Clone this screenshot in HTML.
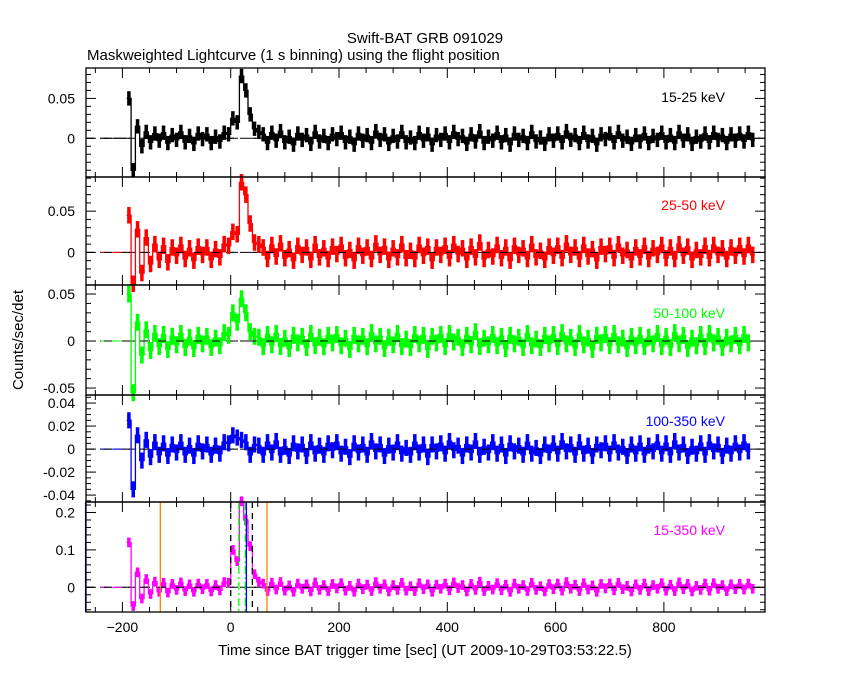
<!DOCTYPE html>
<html><head><meta charset="utf-8">
<style>
html,body{margin:0;padding:0;background:#fff;}
svg text{font-family:"Liberation Sans",sans-serif;}
</style></head>
<body>
<svg id="chart" width="850" height="680" viewBox="0 0 850 680" xmlns="http://www.w3.org/2000/svg">
<rect width="850" height="680" fill="#fff"/>
<text x="425" y="43" font-size="15" text-anchor="middle">Swift-BAT GRB 091029</text>
<text x="87" y="60" font-size="15">Maskweighted Lightcurve (1 s binning) using the flight position</text>
<text x="425" y="655" font-size="15" text-anchor="middle">Time since BAT trigger time [sec] (UT 2009-10-29T03:53:22.5)</text>
<text x="0" y="0" font-size="15" text-anchor="middle" transform="translate(23,340) rotate(-90)">Counts/sec/det</text>
<g id="plots"></g>
</svg>
<script>
// time grid: bins start at T0 with STEP seconds
const T0 = -192, STEP = 8;
const xTicks = [-200, 0, 200, 400, 600, 800];
// values in milli-counts/sec/det
const band1 = [50,-40,15,-10,8,-5,6,-3,7,-6,4,-2,8,-5,3,-7,6,-1,5,-6,2,-4,7,5,25,20,78,60,30,12,8,5,-6,7,-3,9,-5,2,-8,6,-2,4,-7,8,-4,3,-6,5,-1,7,-5,2,-8,6,-3,4,-6,9,-2,5,-7,3,-4,8,-5,1,-6,7,-3,5,-8,4,-2,6,-5,8,-1,3,-7,5,-4,9,-6,2,-3,7,-5,4,-8,6,-2,3,-6,8,-4,1,-7,5,-3,6,-5,9,-2,4,-6,7,-4,3,-8,5,-1,6,-5,8,-3,2,-7,4,-4,6,-6,3,-2,7,-5,4,-6,8,-3,5,-7,2,-4,6,-5,7,-2,4,-6,5,-3,6,-4,7,-2];
const band2 = [45,-38,28,-25,18,-14,10,-9,8,-12,6,-4,9,-8,5,-10,7,-3,6,-9,4,-6,10,8,25,22,85,70,35,12,10,6,-8,9,-5,11,-7,4,-10,8,-3,6,-9,10,-6,5,-8,7,-2,9,-7,3,-10,8,-4,6,-8,11,-3,7,-9,5,-6,10,-7,2,-8,9,-4,7,-10,6,-3,8,-7,10,-2,5,-9,7,-6,12,-8,3,-5,9,-7,6,-10,8,-3,5,-8,10,-6,2,-9,7,-4,8,-7,11,-3,6,-8,9,-5,4,-10,7,-2,8,-7,10,-4,3,-9,6,-6,8,-8,5,-3,9,-7,6,-8,10,-4,7,-9,3,-6,8,-7,9,-3,5,-8,6,-4,8,-5,9,-3];
const band3 = [50,-55,20,-15,12,-10,8,-6,7,-9,5,-4,8,-7,4,-8,6,-3,5,-7,3,-5,9,6,30,20,45,30,10,5,4,-6,7,-4,8,-6,3,-8,6,-2,5,-7,8,-5,4,-6,6,-2,7,-5,3,-9,6,-3,5,-6,9,-3,5,-8,4,-4,8,-6,2,-7,7,-3,6,-9,5,-2,7,-6,8,-1,4,-7,6,-4,10,-6,3,-4,7,-5,5,-8,6,-3,4,-7,8,-5,2,-7,6,-3,7,-6,9,-3,4,-7,8,-4,3,-9,6,-2,7,-5,8,-4,3,-8,5,-5,6,-6,4,-3,8,-6,5,-7,9,-3,6,-8,3,-5,7,-6,8,-2,5,-7,4,-3,6,-5,7,-2];
const band4 = [25,-35,12,-10,8,-7,6,-5,5,-6,4,-3,6,-5,3,-6,5,-2,4,-5,3,-4,6,5,12,10,8,6,-5,4,3,-5,6,-3,7,-5,2,-6,5,-2,4,-6,6,-4,3,-5,5,-1,6,-4,2,-7,5,-3,4,-5,7,-2,4,-6,3,-3,6,-4,1,-5,6,-3,4,-7,4,-2,5,-4,7,-1,3,-6,4,-3,7,-5,2,-3,6,-4,4,-6,5,-2,3,-5,6,-4,1,-6,4,-3,5,-4,7,-2,4,-5,6,-4,3,-6,4,-1,5,-4,6,-3,2,-6,4,-4,5,-5,3,-2,6,-4,5,-5,7,-3,4,-6,2,-4,5,-5,6,-2,4,-6,3,-4,5,-3,6,-2];
const band5 = [120,-50,40,-30,22,-18,15,-12,12,-14,9,-7,13,-10,8,-12,10,-5,9,-11,6,-8,14,12,100,70,230,180,110,35,15,10,-10,12,-6,14,-9,5,-12,10,-4,8,-11,13,-7,6,-10,9,-3,11,-9,4,-12,10,-5,7,-10,14,-4,8,-11,6,-7,12,-9,3,-10,11,-5,8,-12,7,-4,10,-8,13,-2,6,-11,9,-7,15,-10,4,-6,11,-8,7,-12,10,-4,6,-10,12,-7,3,-11,9,-5,10,-9,14,-4,7,-10,11,-6,5,-12,9,-3,10,-8,12,-5,4,-11,8,-7,10,-10,6,-4,11,-9,7,-10,13,-5,9,-11,4,-7,10,-9,11,-4,6,-10,8,-5,9,-6,10,-4];
// per-band 1-sigma scatter (counts/sec/det) shown as shaded noise band
const bandErr = [0.009, 0.010, 0.009, 0.007, 0.013];
const bandNames = ["15-25 keV","25-50 keV","50-100 keV","100-350 keV","15-350 keV"];
const yTicks1 = [0, 0.05];
const yTicks2 = [0, 0.05];
const yTicks3 = [-0.05, 0, 0.05];
const yTicks4 = [-0.04, -0.02, 0, 0.02, 0.04];
const yTicks5 = [0, 0.1, 0.2];
const markerBlue = [-268, 29];
const markerOrange = [-130, 67];
const markerDashed = [0, 40];
const markerGreen = [15, 27];

const NS = "http://www.w3.org/2000/svg";
const X0 = 86, X1 = 765;
const xs = t => 230.7 + t * 0.5415;
const panels = [
  {top:68,bot:177,ymin:-0.0485,ymax:0.0881,data:band1,ticks:yTicks1,minor:0.01,color:"#000",lab:97},
  {top:177,bot:285,ymin:-0.0395,ymax:0.0914,data:band2,ticks:yTicks2,minor:0.01,color:"#f00",lab:205},
  {top:285,bot:395,ymin:-0.0574,ymax:0.0596,data:band3,ticks:yTicks3,minor:0.01,color:"#0f0",lab:313},
  {top:395,bot:502,ymin:-0.046,ymax:0.047,data:band4,ticks:yTicks4,minor:0.005,color:"#00f",lab:421},
  {top:502,bot:612,ymin:-0.066,ymax:0.228,data:band5,ticks:yTicks5,minor:0.02,color:"#f0f",lab:530}
];
const g = document.getElementById("plots");
function mk(tag, attrs){const e=document.createElementNS(NS,tag);for(const k in attrs)e.setAttribute(k,attrs[k]);g.appendChild(e);return e;}
panels.forEach((p,pi)=>{
  const ys = v => p.bot - (v - p.ymin)/(p.ymax - p.ymin)*(p.bot - p.top);
  const err = bandErr[pi];
  const z = mk("line",{x1:X0,x2:X1,y1:ys(0),y2:ys(0),stroke:"#000","stroke-width":1,"stroke-dasharray":"8,6"});
  
  
  const f = mk("line",{x1:xs(-240),x2:xs(T0),y1:ys(0),y2:ys(0),stroke:p.color,"stroke-width":1});
  
  
  p.data.forEach((v,i)=>{
    const t = T0 + STEP*i, val=v/1000;
    const hi = ys(val+err), lo = ys(val-err);
    const r = mk("rect",{x:xs(t)+0.4,y:hi,width:STEP*0.5415-0.8,height:Math.max(1,lo-hi),fill:p.color});
    
    
  });
  let d = "";
  p.data.forEach((v,i)=>{
    const t = T0 + STEP*i, y = ys(v/1000);
    d += (i===0?"M":"L") + xs(t).toFixed(1)+","+y.toFixed(1)+" L"+xs(t+STEP).toFixed(1)+","+y.toFixed(1)+" ";
  });
  const path = mk("path",{d:d,fill:"none",stroke:p.color,"stroke-width":1.3});
  
  
  const z2 = mk("line",{x1:X0,x2:X1,y1:ys(0),y2:ys(0),stroke:"#000","stroke-width":1,"stroke-dasharray":"8,10"});
  
  
  if(pi===4){
    const addV=(arr,col,dash,nm)=>arr.forEach(t=>{
      const l=mk("line",{x1:xs(t),x2:xs(t),y1:p.top,y2:p.bot,stroke:col,"stroke-width":1.3});
      if(dash) l.setAttribute("stroke-dasharray",dash);
      
      
    });
    addV(markerOrange,"#ff8000",null,"orange-marker");
    addV(markerDashed,"#000","6,5","dashed-marker");
    addV(markerGreen,"#0f0","8,3,2,3","green-marker");
    addV(markerBlue,"#00f",null,"blue-marker");
  }
  const fr = mk("rect",{x:X0,y:p.top,width:X1-X0,height:p.bot-p.top,fill:"none",stroke:"#000","stroke-width":1.3});
  
  
  for(let t=-250;t<=950;t+=50){
    const L = (t%200===0)?10:5;
    mk("line",{x1:xs(t),x2:xs(t),y1:p.top,y2:p.top+L,stroke:"#000"});
    mk("line",{x1:xs(t),x2:xs(t),y1:p.bot,y2:p.bot-L,stroke:"#000"});
  }
  const start = Math.ceil(p.ymin/p.minor)*p.minor;
  for(let v=start; v<=p.ymax; v+=p.minor){
    const major = p.ticks.some(tk=>Math.abs(tk-v)<p.minor/10);
    const L = major?10:5, y=ys(v);
    mk("line",{x1:X0,x2:X0+L,y1:y,y2:y,stroke:"#000"});
    mk("line",{x1:X1,x2:X1-L,y1:y,y2:y,stroke:"#000"});
  }
  p.ticks.forEach(v=>{
    const tx = mk("text",{x:75,y:ys(v)+5,"font-size":14,"text-anchor":"end"});
    tx.textContent = v===0?"0":String(v);
    
    
  });
  const lb = mk("text",{x:725,y:p.lab+5,"font-size":14,"text-anchor":"end",fill:p.color});
  lb.textContent = bandNames[pi];
  
  
});
xTicks.forEach(t=>{
  const tx = mk("text",{x:xs(t),y:632,"font-size":14,"text-anchor":"middle"});
  tx.textContent = t<0?"\u2212"+(-t):String(t);
  
  
});
</script>
</body></html>
